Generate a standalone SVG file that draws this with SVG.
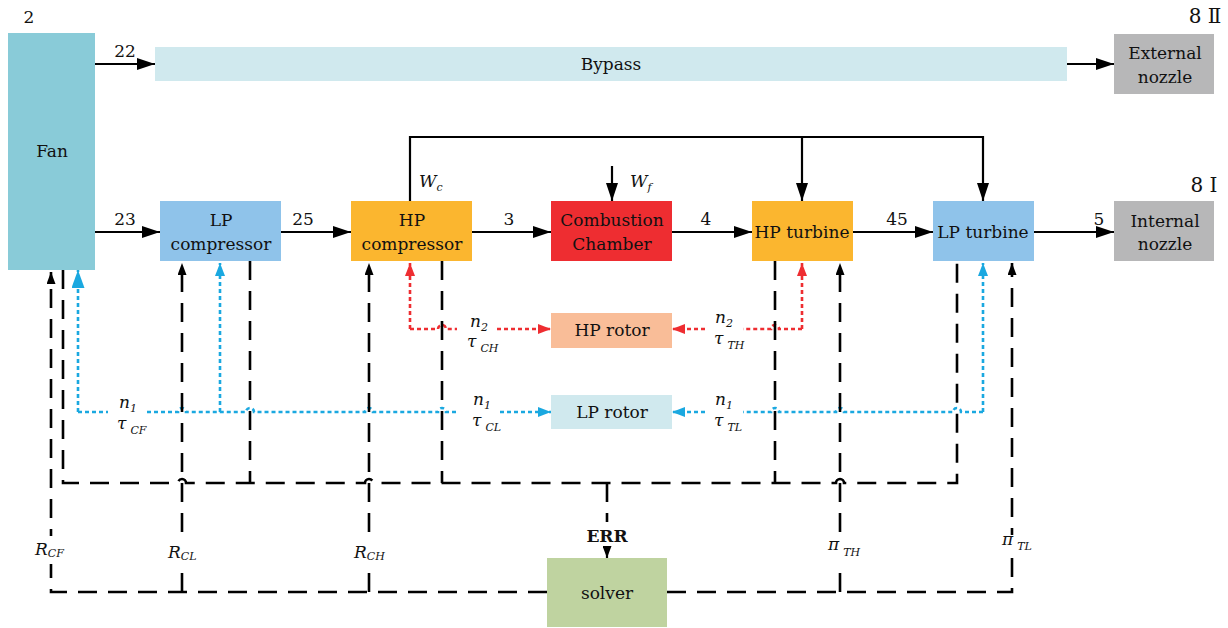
<svg xmlns="http://www.w3.org/2000/svg" width="1228" height="628" viewBox="0 0 1228 628" font-family="'DejaVu Serif', serif">
<style>
text{font-family:"DejaVu Serif",serif;fill:#111;}
.t{font-size:17px;text-anchor:middle;}
.i{font-style:italic;font-size:17px;}
.s{font-size:11px;}
.solid{fill:none;stroke:#000;stroke-width:2.2;}
.dash{fill:none;stroke:#000;stroke-width:2.6;stroke-dasharray:19 11;}
.blue{fill:none;stroke:#1aa8e0;stroke-width:2.6;stroke-dasharray:4 3;}
.red{fill:none;stroke:#ee2d31;stroke-width:2.6;stroke-dasharray:4 3;}
.gap{fill:#fff;}
</style>
<defs>
<marker id="aB" markerUnits="userSpaceOnUse" markerWidth="18" markerHeight="12" refX="18" refY="6" orient="auto"><path d="M0,0 L18,6 L0,12 z" fill="#000"/></marker>
<marker id="aS" markerUnits="userSpaceOnUse" markerWidth="12" markerHeight="9" refX="12" refY="4.5" orient="auto"><path d="M0,0 L12,4.5 L0,9 z" fill="#000"/></marker>
<marker id="aBl" markerUnits="userSpaceOnUse" markerWidth="18" markerHeight="13" refX="18" refY="6.5" orient="auto"><path d="M0,0 L18,6.5 L0,13 z" fill="#1aa8e0"/></marker>
<marker id="aBs" markerUnits="userSpaceOnUse" markerWidth="13" markerHeight="10" refX="13" refY="5" orient="auto"><path d="M0,0 L13,5 L0,10 z" fill="#1aa8e0"/></marker>
<marker id="aR" markerUnits="userSpaceOnUse" markerWidth="13" markerHeight="10" refX="13" refY="5" orient="auto"><path d="M0,0 L13,5 L0,10 z" fill="#ee2d31"/></marker>
</defs>

<g id="connectors">
  <path class="solid" d="M95,64 L155,64" marker-end="url(#aB)"/>
  <path class="solid" d="M1067,64 L1114,64" marker-end="url(#aB)"/>
  <path class="solid" d="M95,232 L160,232" marker-end="url(#aB)"/>
  <path class="solid" d="M281,232 L351,232" marker-end="url(#aB)"/>
  <path class="solid" d="M472,232 L551,232" marker-end="url(#aB)"/>
  <path class="solid" d="M672,232 L752,232" marker-end="url(#aB)"/>
  <path class="solid" d="M853,232 L933,232" marker-end="url(#aB)"/>
  <path class="solid" d="M1034,232 L1114,232" marker-end="url(#aB)"/>
  <path class="solid" d="M410,201 L410,137 L983,137 L983,201" marker-end="url(#aB)"/>
  <path class="solid" d="M802,137 L802,201" marker-end="url(#aB)"/>
  <path class="solid" d="M612,166 L612,201" marker-end="url(#aB)"/>

  <path class="red" d="M410,329 L410,263" marker-end="url(#aR)"/>
  <path class="red" d="M410,329 L438,329 A4,4 0 0 1 446,329 L457,329"/>
  <path class="red" d="M497,329 L551,329" marker-end="url(#aR)"/>
  <path class="red" d="M802,329 L802,263" marker-end="url(#aR)"/>
  <path class="red" d="M802,329 L779,329 A4,4 0 0 0 771,329 L743,329"/>
  <path class="red" d="M705,329 L672,329" marker-end="url(#aR)"/>

  <path class="blue" d="M78,412 L78,270" marker-end="url(#aBl)"/>
  <path class="blue" d="M78,412 L108,412"/>
  <path class="blue" d="M147,412 L178,412 A4,4 0 0 1 186,412 L246,412 A4,4 0 0 1 254,412 L365,412 A4,4 0 0 1 373,412 L438,412 A4,4 0 0 1 446,412 L458,412"/>
  <path class="blue" d="M220,412 L220,263" marker-end="url(#aBs)"/>
  <path class="blue" d="M500,412 L551,412" marker-end="url(#aBs)"/>
  <path class="blue" d="M705,412 L672,412" marker-end="url(#aBs)"/>
  <path class="blue" d="M983,412 L961,412 A4,4 0 0 0 953,412 L844,412 A4,4 0 0 0 836,412 L779,412 A4,4 0 0 0 771,412 L743,412"/>
  <path class="blue" d="M983,412 L983,263" marker-end="url(#aBs)"/>

  <path class="dash" d="M63,270 L63,483 L178,483 A4,4 0 0 1 186,483 L365,483 A4,4 0 0 1 373,483 L836,483 A4,4 0 0 1 844,483 L957,483 L957,261"/>
  <path class="dash" d="M250,261 L250,483"/>
  <path class="dash" d="M442,261 L442,483"/>
  <path class="dash" d="M775,261 L775,483"/>
  <path class="dash" d="M607,483 L607,522"/>
  <path class="solid" d="M607,548 L607,558" marker-end="url(#aS)"/>

  <path class="dash" d="M547,592 L51,592 L51,272" marker-end="url(#aS)"/>
  <path class="dash" d="M182,592 L182,263" marker-end="url(#aS)"/>
  <path class="dash" d="M369,592 L369,263" marker-end="url(#aS)"/>
  <path class="dash" d="M667,592 L1012,592 L1012,263" marker-end="url(#aS)"/>
  <path class="dash" d="M840,592 L840,263" marker-end="url(#aS)"/>

  <rect class="gap" x="44" y="536" width="14" height="28"/>
  <rect class="gap" x="175" y="540" width="14" height="30"/>
  <rect class="gap" x="362" y="537" width="14" height="32"/>
  <rect class="gap" x="833" y="532" width="14" height="31"/>
  <rect class="gap" x="1005" y="535" width="14" height="22"/>
</g>

<g id="fan"><rect x="8" y="33" width="87" height="237" fill="#89cbd8"/><text class="t" x="52" y="157">Fan</text></g>
<g id="bypass"><rect x="155" y="47" width="912" height="34" fill="#d0e9ee"/><text class="t" x="611" y="70">Bypass</text></g>
<g id="external-nozzle"><rect x="1114" y="34" width="100" height="60" fill="#b7b7b8"/><text class="t" x="1165" y="59">External</text><text class="t" x="1165" y="83">nozzle</text></g>
<g id="lp-compressor"><rect x="160" y="201" width="121" height="60" fill="#8fc3ea"/><text class="t" x="221" y="226">LP</text><text class="t" x="221" y="250">compressor</text></g>
<g id="hp-compressor"><rect x="351" y="201" width="121" height="60" fill="#fbb62f"/><text class="t" x="412" y="226">HP</text><text class="t" x="412" y="250">compressor</text></g>
<g id="combustion-chamber"><rect x="551" y="201" width="121" height="60" fill="#ee2d31"/><text class="t" x="612" y="226">Combustion</text><text class="t" x="612" y="250">Chamber</text></g>
<g id="hp-turbine"><rect x="752" y="201" width="101" height="60" fill="#fbb62f"/><text class="t" x="802" y="238">HP turbine</text></g>
<g id="lp-turbine"><rect x="933" y="201" width="101" height="60" fill="#8fc3ea"/><text class="t" x="983" y="238">LP turbine</text></g>
<g id="internal-nozzle"><rect x="1114" y="201" width="100" height="60" fill="#b7b7b8"/><text class="t" x="1165" y="227">Internal</text><text class="t" x="1165" y="250">nozzle</text></g>
<g id="hp-rotor"><rect x="551" y="313" width="121" height="35" fill="#f9bd98"/><text class="t" x="612" y="336">HP rotor</text></g>
<g id="lp-rotor"><rect x="551" y="395" width="121" height="34" fill="#d0e9ee"/><text class="t" x="612" y="418">LP rotor</text></g>
<g id="solver"><rect x="547" y="558" width="120" height="69" fill="#bfd3a0"/><text class="t" x="607" y="599">solver</text></g>

<g id="labels">
  <text class="t" x="29" y="23">2</text>
  <text class="t" x="1205" y="23" style="font-size:20px">8 Ⅱ</text>
  <text class="t" x="1204" y="192" style="font-size:20px">8 Ⅰ</text>
  <text class="t" x="125" y="57">22</text>
  <text class="t" x="125" y="225">23</text>
  <text class="t" x="303" y="225">25</text>
  <text class="t" x="509" y="225">3</text>
  <text class="t" x="706" y="225">4</text>
  <text class="t" x="897" y="225">45</text>
  <text class="t" x="1099" y="225">5</text>
  <text class="i" x="419" y="187">W<tspan class="s" dy="4">c</tspan></text>
  <text class="i" x="630" y="187">W<tspan class="s" dy="4">f</tspan></text>
  <text x="607" y="542" style="font-size:17px;font-weight:bold;text-anchor:middle">ERR</text>

  <text class="i" x="119" y="408">n<tspan class="s" dy="4">1</tspan></text>
  <text class="i" x="117" y="429">τ<tspan class="s" dx="4" dy="5">CF</tspan></text>
  <text class="i" x="470" y="327">n<tspan class="s" dy="4">2</tspan></text>
  <text class="i" x="467" y="347">τ<tspan class="s" dx="4" dy="5">CH</tspan></text>
  <text class="i" x="473" y="405">n<tspan class="s" dy="4">1</tspan></text>
  <text class="i" x="472" y="426">τ<tspan class="s" dx="4" dy="5">CL</tspan></text>
  <text class="i" x="715" y="323">n<tspan class="s" dy="4">2</tspan></text>
  <text class="i" x="714" y="344">τ<tspan class="s" dx="4" dy="5">TH</tspan></text>
  <text class="i" x="715" y="405">n<tspan class="s" dy="4">1</tspan></text>
  <text class="i" x="714" y="426">τ<tspan class="s" dx="4" dy="5">TL</tspan></text>

  <text class="i" x="35" y="555">R<tspan class="s" dy="2">CF</tspan></text>
  <text class="i" x="168" y="558">R<tspan class="s" dy="2">CL</tspan></text>
  <text class="i" x="354" y="558">R<tspan class="s" dy="2">CH</tspan></text>
  <text class="i" x="828" y="550">π<tspan class="s" dx="4" dy="6">TH</tspan></text>
  <text class="i" x="1002" y="545">π<tspan class="s" dx="4" dy="5">TL</tspan></text>
</g>
</svg>
